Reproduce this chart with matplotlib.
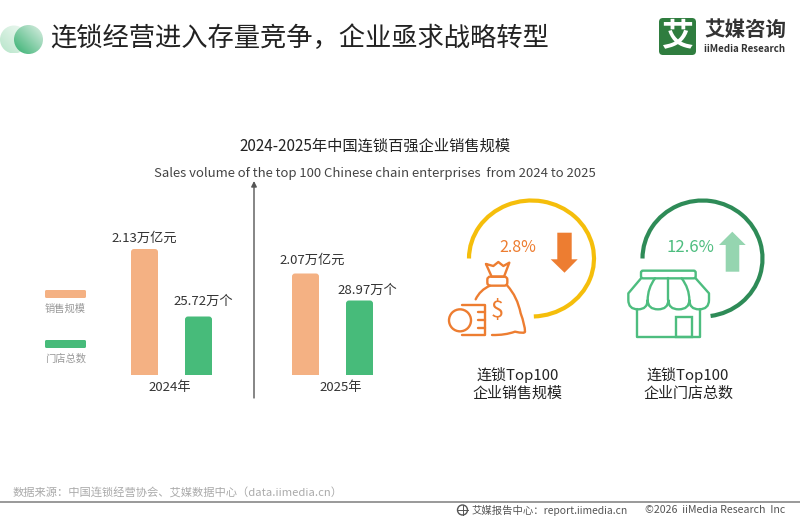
# -*- coding: utf-8 -*-
"""
chain top 100 sales / stores slide
output: out.png
"""
import matplotlib
matplotlib.use('Agg')
from matplotlib import pyplot as plt
from matplotlib.patches import Arc, Circle, FancyBboxPatch, PathPatch, Polygon, Rectangle
from matplotlib.path import Path
import numpy as np

plt.rcParams['font.family'] = ['Noto Sans CJK SC', 'DejaVu Sans']

years = ['2024年', '2025年']
sales_labels = ['2.13万亿元', '2.07万亿元']
store_labels = ['25.72万个', '28.97万个']
# the source bars are not to scale with their labels, so these are bar lengths read off the picture
sales_bars = [126, 101.5]
store_bars = [58.5, 74.5]
legend_names = ['销售规模', '门店总数']
change_sales = '2.8%'
change_stores = '12.6%'

ORANGE = '#F4B183'
GREEN = '#47BB7A'
ICON_OR = '#ED7D31'
ICON_GR = '#4DBD7F'
TXT = '#333333'

fig = plt.figure(figsize=(8, 5.2), dpi=100)
# overlay in pixel coordinates for the slide furniture
bg = fig.add_axes([0, 0, 1, 1])
bg.set_xlim(0, 800)
bg.set_ylim(520, 0)
bg.axis('off')


def put(x, y, s, size, color=TXT, ha='center', **kw):
    bg.text(x, y, s, fontsize=size, color=color, ha=ha, va='center', **kw)


def gradient_circle(cx, cy, r, c0, c1, alpha0, alpha1):
    n = 64
    xx, yy = np.meshgrid(np.linspace(0, 1, n), np.linspace(0, 1, n))
    t = (xx + (1 - yy)) / 2     # image row 0 is the top, pale corner is top right
    c0 = np.array(matplotlib.colors.to_rgb(c0))
    c1 = np.array(matplotlib.colors.to_rgb(c1))
    img = np.zeros((n, n, 4))
    for k in range(3):
        img[:, :, k] = c0[k] + (c1[k] - c0[k]) * t
    img[:, :, 3] = alpha0 + (alpha1 - alpha0) * t
    im = bg.imshow(img, extent=(cx - r, cx + r, cy + r, cy - r), zorder=2, aspect='auto', interpolation='bilinear')
    im.set_clip_path(Circle((cx, cy), r, transform=bg.transData))


gradient_circle(14, 39.5, 14, '#A8E0BE', '#EAF7EF', 0.85, 0.7)
gradient_circle(28.5, 39.5, 14.5, '#35B070', '#DCEFE4', 1, 1)
bg.set_xlim(0, 800)
bg.set_ylim(520, 0)

put(50, 38.5, '连锁经营进入存量竞争，企业亟求战略转型', 18.95, color='#222222', ha='left')

# logo
bg.add_patch(FancyBboxPatch((659, 18), 37, 37, boxstyle='round,pad=0,rounding_size=4', fc='#2F7D3F', ec='none'))
put(677.5, 36.5, '艾', 23, color='white', fontweight='bold')
put(704, 29, '艾媒咨询', 14.8, color='#333333', ha='left', fontweight='bold')
put(704, 49, 'iiMedia Research', 7.0, color='#333333', ha='left', fontweight='bold')

put(375, 146.5, '2024-2025年中国连锁百强企业销售规模', 11, color='#222222', fontweight='medium')
put(375, 173, 'Sales volume of the top 100 Chinese chain enterprises  from 2024 to 2025', 9.45, color='#444444')

# bars, axes baseline sits at y=375 in the picture
ax = fig.add_axes([100 / 800, (520 - 375) / 520, 300 / 800, 145 / 520])
ax.patch.set_alpha(0)
ax.set_xlim(100, 400)
ax.set_ylim(0, 145)
ax.axis('off')
centres = [171.5, 332.5]
bar_w = 27
for i in range(len(years)):
    for dx, h, col in [(-27, sales_bars[i], ORANGE), (27, store_bars[i], GREEN)]:
        # rounded box runs below zero so the axes clip leaves square feet
        ax.add_patch(FancyBboxPatch((centres[i] + dx - bar_w / 2, -6), bar_w, h + 6,
                                    boxstyle='round,pad=0,rounding_size=3', fc=col, ec='none'))

put(143.8, 238, sales_labels[0], 9.5)
put(312, 260.5, sales_labels[1], 9.5)
put(203, 301.5, store_labels[0], 9.5)
put(367, 290, store_labels[1], 9.5)
put(170, 388, years[0], 9.5)
put(340.8, 388, years[1], 9.5)

# legend
bg.add_patch(FancyBboxPatch((45, 290), 41, 8, boxstyle='round,pad=0,rounding_size=1.5', fc=ORANGE, ec='none'))
put(65.5, 308.5, legend_names[0], 7.4, color='#999999')
bg.add_patch(FancyBboxPatch((45, 340), 41, 8, boxstyle='round,pad=0,rounding_size=1.5', fc=GREEN, ec='none'))
put(65.5, 358.5, legend_names[1], 7.4, color='#999999')

# divider arrow
bg.annotate('', xy=(254, 181), xytext=(254, 398),
            arrowprops=dict(arrowstyle='-|>', color='#555555', lw=1, mutation_scale=8, shrinkA=0, shrinkB=0))

# ring arcs, y axis is flipped so angles run clockwise on screen
bg.add_patch(Arc((531.5, 258.5), 125, 116, theta1=180, theta2=447.7, color='#F5BE0B', lw=3))
bg.add_patch(Arc((702.5, 258.5), 120, 116, theta1=180, theta2=442, color='#2E8B57', lw=3))


def arrow(points, color):
    bg.add_patch(Polygon(points, closed=True, fc=color, ec='none'))


arrow([(557.3, 232.7), (571.7, 232.7), (571.7, 259.3), (577.7, 259.3), (564.5, 272.7), (550.7, 259.3), (557.3, 259.3)], ICON_OR)
arrow([(732.3, 231.7), (745.7, 245), (739.3, 245), (739.3, 271.7), (725.7, 271.7), (725.7, 245), (719, 245)], '#95D5B0')
put(517.7, 247.3, change_sales, 11.5, color=ICON_OR)
put(690.3, 247.3, change_stores, 12, color=ICON_GR)


# icons are traced in 3x crop coordinates
def bag(x, y):
    return 430 + x / 3.0, 190 + y / 3.0


def shop(x, y):
    return 610 + x / 3.0, 190 + y / 3.0


def stroke(conv, verts, codes, color, lw=1.7):
    pts = [conv(*v) for v in verts]
    bg.add_patch(PathPatch(Path(pts, codes), fc='none', ec=color, lw=lw, capstyle='round', joinstyle='round'))


def round_box(conv, x0, y0, x1, y1, r, color):
    xa, ya = conv(x0, y0)
    xb, yb = conv(x1, y1)
    bg.add_patch(FancyBboxPatch((xa, ya), xb - xa, yb - ya, boxstyle='round,pad=0,rounding_size=%g' % r,
                                fc='none', ec=color, lw=1.7))


M, L, C = Path.MOVETO, Path.LINETO, Path.CURVE3

# coin and stack
bg.add_patch(Circle(bag(90, 391), 11, fc='none', ec=ICON_OR, lw=1.7))
stroke(bag, [(95, 345), (165, 345), (165, 435), (95, 435)], [M, L, L, L], ICON_OR)
for yy in [367, 390, 413]:
    stroke(bag, [(143, yy), (165, yy)], [M, L], ICON_OR)
# top knot and neck
stroke(bag, [(168, 222), (190, 228), (205, 216), (220, 228), (238, 218), (222, 260), (185, 260), (168, 222)],
       [M, L, L, L, L, L, L, L], ICON_OR)
round_box(bag, 172, 260, 232, 287, 3, ICON_OR)
# bag body
stroke(bag, [(180, 287), (150, 300), (137, 328)], [M, C, C], ICON_OR)
stroke(bag, [(232, 287), (262, 320), (272, 370), (285, 405), (285, 425), (285, 432), (255, 425),
             (225, 436), (186, 435)],
       [M, C, C, C, C, C, C, C, C], ICON_OR)
put(*bag(201, 362), '$', 17, color=ICON_OR)

# shop
round_box(shop, 93, 242, 257, 265, 2, ICON_GR)
stroke(shop, [(93, 265), (55, 310), (55, 330), (55, 358), (84, 358), (113, 358), (113, 330),
              (113, 358), (144, 358), (175, 358), (175, 330), (175, 358), (206, 358), (238, 358), (238, 330),
              (238, 358), (267, 358), (297, 358), (297, 330), (297, 310), (257, 265)],
       [M, L, L, C, C, C, C, C, C, C, C, C, C, C, C, C, C, C, C, L, L], ICON_GR)
stroke(shop, [(135, 265), (113, 295), (113, 330)], [M, C, C], ICON_GR)
stroke(shop, [(175, 265), (175, 330)], [M, L], ICON_GR)
stroke(shop, [(215, 265), (238, 295), (238, 330)], [M, C, C], ICON_GR)
stroke(shop, [(80, 358), (80, 440), (270, 440), (270, 358)], [M, L, L, L], ICON_GR)
x0, y0 = shop(198, 440)
x1, y1 = shop(245, 380)
bg.add_patch(Rectangle((x0, y0), x1 - x0, y1 - y0, fc='none', ec=ICON_GR, lw=1.7))

put(517.5, 375, '连锁Top100', 10.8, color='#222222')
put(517.5, 394, '企业销售规模', 10.8, color='#222222')
put(688, 375, '连锁Top100', 10.8, color='#222222')
put(688, 394, '企业门店总数', 10.8, color='#222222')

# footer
put(13, 492, '数据来源：中国连锁经营协会、艾媒数据中心（data.iimedia.cn）', 8.1, color='#AAAAAA', ha='left')
bg.plot([0, 800], [502, 502], color='#888888', lw=1.2)
bg.add_patch(Circle((462.5, 510), 5, fc='none', ec='#555555', lw=1))
bg.plot([457.5, 467.5], [510, 510], color='#555555', lw=0.7)
bg.plot([462.5, 462.5], [505, 515], color='#555555', lw=0.7)
put(472, 510, '艾媒报告中心：report.iimedia.cn', 7.45, color='#555555', ha='left')
put(645, 510, '©2026  iiMedia Research  Inc', 7.6, color='#555555', ha='left')

fig.savefig('out.png', dpi=100)
